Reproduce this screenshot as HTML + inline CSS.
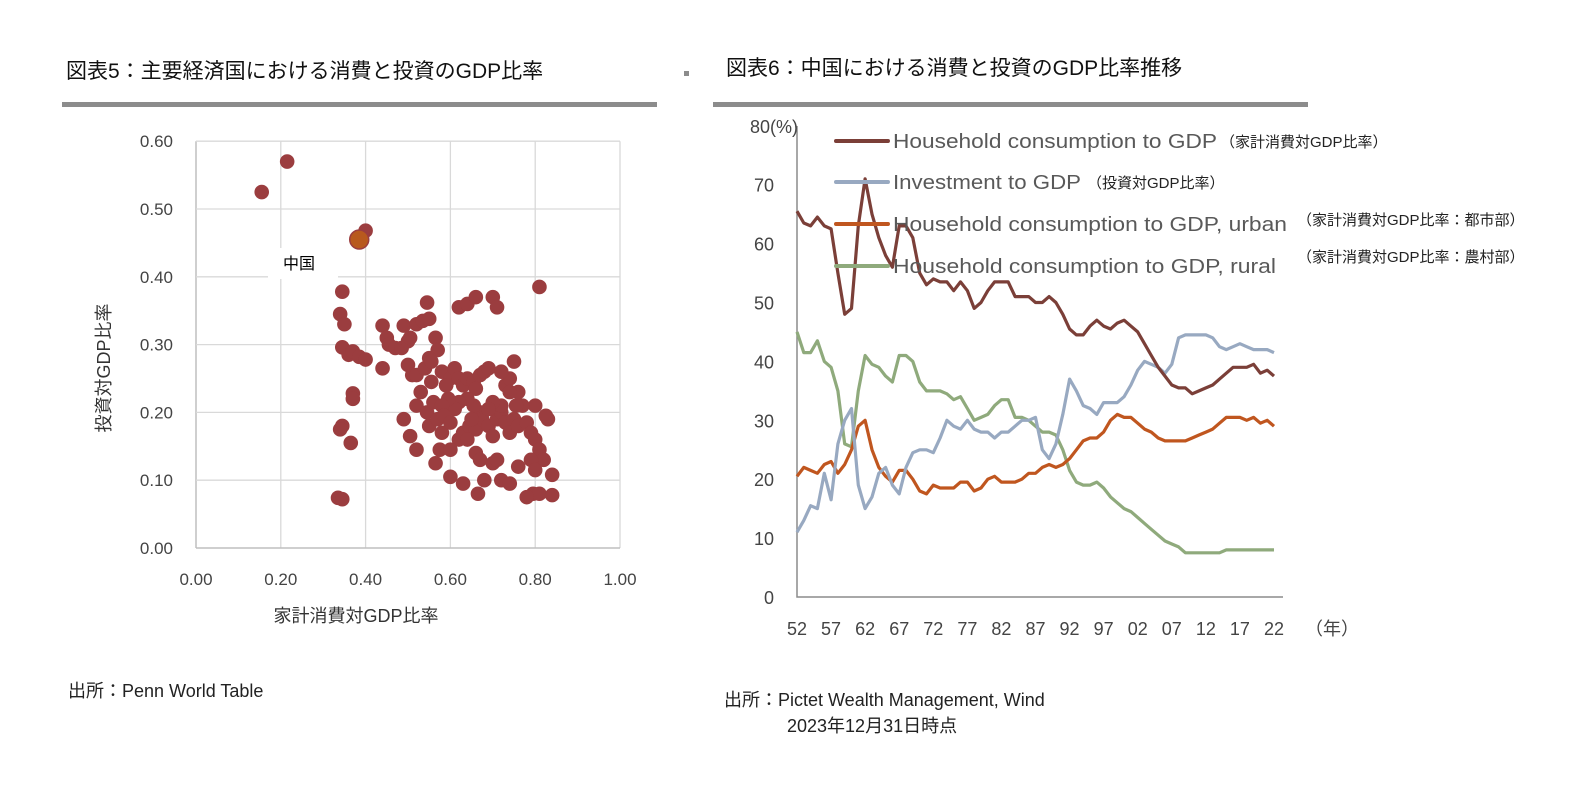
<!DOCTYPE html>
<html><head><meta charset="utf-8">
<style>
body{margin:0;background:#fff;width:1579px;height:799px;overflow:hidden;font-family:"Liberation Sans","Noto Sans CJK JP",sans-serif;}
svg text{font-family:"Liberation Sans","Noto Sans CJK JP",sans-serif;}
</style></head><body>
<svg id="root" width="1579" height="799" xmlns="http://www.w3.org/2000/svg">
<text x="66" y="78" font-size="21" fill="#111">図表5：主要経済国における消費と投資のGDP比率</text>
<rect x="62" y="102" width="595" height="5" fill="#8c8c8c"/>
<rect x="684" y="71" width="5" height="5" fill="#8c8c8c"/>
<text x="726" y="75" font-size="21" fill="#111">図表6：中国における消費と投資のGDP比率推移</text>
<rect x="713" y="102" width="595" height="5" fill="#8c8c8c"/>
<g id="scatter"></g>
<g id="lines"></g>
<text x="68" y="697" font-size="18" fill="#222">出所：Penn World Table</text>
<text x="724" y="706" font-size="18" fill="#222">出所：Pictet Wealth Management, Wind</text>
<text x="787" y="732" font-size="18" fill="#222">2023年12月31日時点</text>
</svg>
<script>
const NS="http://www.w3.org/2000/svg";
// ---- scatter data ----
const xTicks=[0,0.2,0.4,0.6,0.8,1.0];
const yTicks=[0,0.1,0.2,0.3,0.4,0.5,0.6];
const consumption=[0.155,0.215,0.40,0.345,0.34,0.35,0.345,0.36,0.37,0.385,0.40,0.37,0.37,0.345,0.34,0.365,0.335,0.345,0.44,0.44,0.45,0.455,0.47,0.485,0.49,0.50,0.505,0.52,0.535,0.55,0.545,0.565,0.57,0.50,0.51,0.52,0.54,0.55,0.555,0.53,0.52,0.49,0.505,0.52,0.55,0.545,0.56,0.57,0.565,0.575,0.58,0.58,0.59,0.6,0.61,0.62,0.63,0.64,0.655,0.66,0.67,0.68,0.69,0.67,0.655,0.64,0.62,0.61,0.595,0.58,0.585,0.6,0.62,0.63,0.645,0.66,0.675,0.69,0.7,0.71,0.72,0.73,0.74,0.75,0.76,0.78,0.79,0.80,0.81,0.82,0.83,0.825,0.80,0.77,0.755,0.72,0.7,0.69,0.73,0.74,0.75,0.72,0.76,0.74,0.62,0.64,0.66,0.70,0.71,0.81,0.64,0.66,0.67,0.6,0.63,0.665,0.7,0.71,0.72,0.74,0.76,0.79,0.8,0.795,0.81,0.84,0.84,0.78,0.68,0.65,0.6,0.59,0.555];
const investment=[0.525,0.57,0.468,0.378,0.345,0.33,0.296,0.285,0.29,0.282,0.278,0.228,0.22,0.18,0.175,0.155,0.074,0.072,0.265,0.328,0.31,0.30,0.295,0.295,0.328,0.305,0.31,0.33,0.335,0.338,0.362,0.31,0.292,0.27,0.255,0.255,0.265,0.28,0.245,0.23,0.21,0.19,0.165,0.145,0.18,0.2,0.215,0.19,0.125,0.145,0.17,0.26,0.24,0.25,0.265,0.25,0.24,0.25,0.245,0.235,0.255,0.26,0.265,0.2,0.21,0.22,0.215,0.205,0.22,0.21,0.195,0.185,0.16,0.17,0.18,0.175,0.19,0.18,0.165,0.19,0.2,0.185,0.17,0.19,0.18,0.185,0.17,0.16,0.145,0.13,0.19,0.195,0.21,0.21,0.21,0.21,0.215,0.205,0.24,0.25,0.275,0.26,0.23,0.23,0.355,0.36,0.37,0.37,0.355,0.385,0.16,0.14,0.13,0.105,0.095,0.08,0.125,0.13,0.1,0.095,0.12,0.13,0.115,0.08,0.08,0.078,0.108,0.075,0.1,0.19,0.145,0.24,0.275];
const china=[0.385,0.455];
// ---- line data ----
const years=[];for(let y=1952;y<=2022;y++)years.push(y);
const household=[65.5,63.5,63,64.5,63,62.5,55,48,49,63,71,65,61,58,56,63,63,61,55,53,54,53.5,53.5,52,53.5,52,49,50,52,53.5,53.5,53.5,51,51,51,50,50,51,50,48,45.5,44.5,44.5,46,47,46,45.5,46.5,47,46,45,43,41,39,37.5,36,35.5,35.5,34.5,35,35.5,36,37,38,39,39,39,39.5,38,38.5,37.5];
const invest=[11,13,15.5,15,21,16.5,26,30,32,19,15,17,21,22,19,17.5,22,24.5,25,25,24.5,27,30,29,28.5,30,28.5,28,28,27,28,28,29,30,30,30.5,25,23.5,26,31,37,35,32.5,32,31,33,33,33,34,36,38.5,40,39.5,39,38,39.5,44,44.5,44.5,44.5,44.5,44,42.5,42,42.5,43,42.5,42,42,42,41.5];
const urban=[20.5,22,21.5,21,22.5,23,21,22.5,25,29,30,25,22,20.5,19.5,21.5,21.5,20,18,17.5,19,18.5,18.5,18.5,19.5,19.5,18,18.5,20,20.5,19.5,19.5,19.5,20,21,21,22,22.5,22,22.5,23.5,25,26.5,27,27,28,30,31,30.5,30.5,29.5,28.5,28,27,26.5,26.5,26.5,26.5,27,27.5,28,28.5,29.5,30.5,30.5,30.5,30,30.5,29.5,30,29];
const rural=[45,41.5,41.5,43.5,40,39,35,26,25.5,35,41,39.5,39,37.5,36.5,41,41,40,36.5,35,35,35,34.5,33.5,34,32,30,30.5,31,32.5,33.5,33.5,30.5,30.5,30,29,28,28,27.5,25,21.5,19.5,19,19,19.5,18.5,17,16,15,14.5,13.5,12.5,11.5,10.5,9.5,9,8.5,7.5,7.5,7.5,7.5,7.5,7.5,8,8,8,8,8,8,8,8];
const lineTicks=[0,10,20,30,40,50,60,70,80];
const yearLabels=["52","57","62","67","72","77","82","87","92","97","02","07","12","17","22"];

function el(tag,attrs,parent,text){const e=document.createElementNS(NS,tag);for(const k in attrs)e.setAttribute(k,attrs[k]);if(text!==undefined)e.textContent=text;parent.appendChild(e);return e;}

// scatter
const sc=document.getElementById('scatter');
const sx=v=>196+v*424, sy=v=>548-v*678;
xTicks.forEach((t,i)=>{
 const g=el('line',{x1:sx(t),x2:sx(t),y1:sy(0.6),y2:sy(0),stroke:i==0?'#bfbfbf':'#d9d9d9','stroke-width':i==0?1.5:1.3},sc);
 
 
 const l=el('text',{x:sx(t),y:585,'font-size':17,fill:'#444','text-anchor':'middle'},sc,t.toFixed(2));
 
 
});
yTicks.forEach((t,i)=>{
 const g=el('line',{x1:sx(0),x2:sx(1.0),y1:sy(t),y2:sy(t),stroke:i==0?'#bfbfbf':'#d9d9d9','stroke-width':i==0?1.5:1.3},sc);
 
 
 const l=el('text',{x:173,y:sy(t)+6,'font-size':17,fill:'#444','text-anchor':'end'},sc,t.toFixed(2));
 
 
});
const lb=el('rect',{x:268,y:248,width:70,height:31,fill:'#fff'},sc);


consumption.forEach((c,i)=>{
 const p=el('circle',{cx:sx(c),cy:sy(investment[i]),r:7.3,fill:'#9b3d3f'},sc);
 
 
});
const cp=el('circle',{cx:sx(china[0]),cy:sy(china[1]),r:9.5,fill:'#b8591e',stroke:'#9b3d3f','stroke-width':1.5},sc);


const ct=el('text',{x:283,y:269,'font-size':16,fill:'#000'},sc,'中国');


const xt=el('text',{x:356,y:622,'font-size':18,fill:'#333','text-anchor':'middle'},sc,'家計消費対GDP比率');


const yt=el('text',{x:0,y:0,'font-size':18,fill:'#333','text-anchor':'middle',transform:'translate(110,368) rotate(-90)'},sc,'投資対GDP比率');



// line chart
const lc=document.getElementById('lines');
const lx=y=>797+(y-1952)*(477/70), ly=v=>597-v*5.89;
const ax=el('path',{d:`M797 126 V597 H1283`,stroke:'#8c8c8c','stroke-width':1.5,fill:'none'},lc);


lineTicks.forEach(t=>{
 const l=el('text',{x:774,y:ly(t)+7,'font-size':18,fill:'#444','text-anchor':'end'},lc,t===80?'':String(t));
 
 
});
const yu=el('text',{x:750,y:133,'font-size':18,fill:'#444'},lc,'80(%)');


yearLabels.forEach((t,i)=>{
 const l=el('text',{x:lx(1952+i*5),y:635,'font-size':18,fill:'#444','text-anchor':'middle'},lc,t);
 
 
});
const xu=el('text',{x:1305,y:635,'font-size':18,fill:'#444'},lc,'（年）');


const series=[[rural,'#8faa7c','rural-line'],[urban,'#c0561f','urban-line'],[invest,'#98a9c1','investment-line'],[household,'#7b3f38','household-line']];
series.forEach(([d,c,n])=>{
 const p=el('path',{d:d.map((v,i)=>(i?'L':'M')+lx(years[i]).toFixed(1)+' '+ly(v).toFixed(1)).join(''),stroke:c,'stroke-width':3.2,fill:'none','stroke-linejoin':'round'},lc);
 
 
});
const leg=[['#7b3f38','Household consumption to GDP','（家計消費対GDP比率）',141,324,1220],['#98a9c1','Investment to GDP','（投資対GDP比率）',182,188,1087],['#c0561f','Household consumption to GDP, urban','',224,394,0],['#8faa7c','Household consumption to GDP, rural','',266,383,0]];
leg.forEach(([c,t,j,y,w,jx])=>{
 const s=el('line',{x1:836,x2:888,y1:y,y2:y,stroke:c,'stroke-width':4,'stroke-linecap':'round'},lc);
 
 
 const tx=el('text',{x:893,y:y+7,'font-size':20,fill:'#595959',textLength:w,lengthAdjust:'spacingAndGlyphs'},lc,t);
 
 
 if(j){const js=el('text',{x:jx,y:y+6,'font-size':15,fill:'#222'},lc,j);
 
 }
});
const n1=el('text',{x:1297,y:225,'font-size':15,fill:'#222'},lc,'（家計消費対GDP比率：都市部）');


const n2=el('text',{x:1297,y:262,'font-size':15,fill:'#222'},lc,'（家計消費対GDP比率：農村部）');


</script>
</body></html>
